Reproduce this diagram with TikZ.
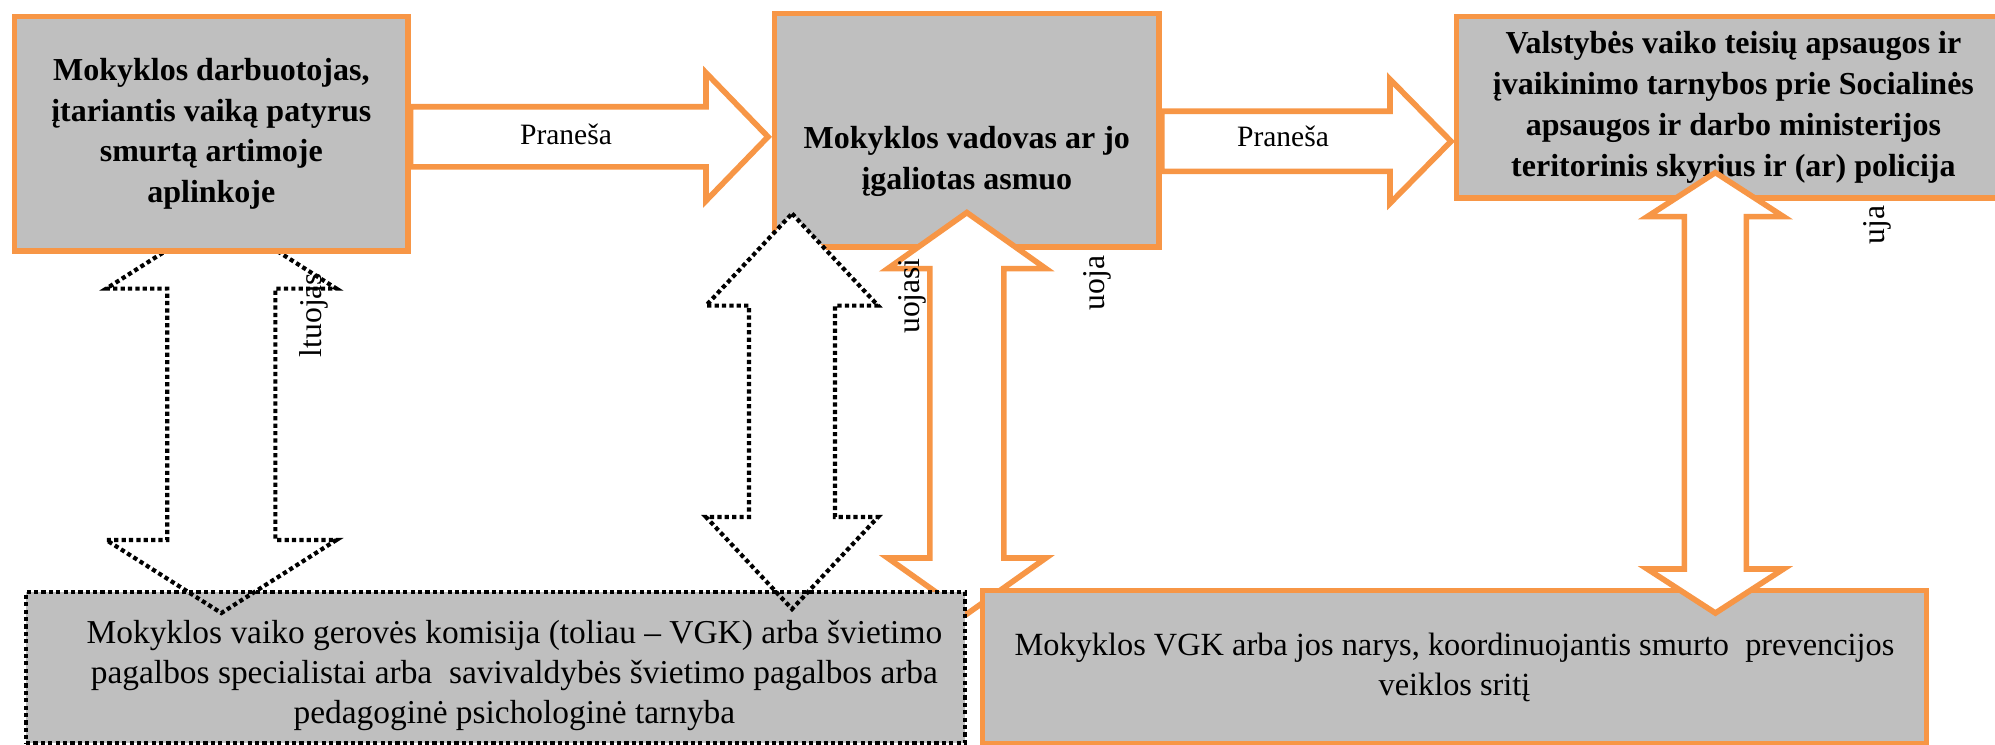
\documentclass[tikz,border=0pt]{standalone}
\usepackage{fontspec}
\setmainfont{Liberation Serif}
\usetikzlibrary{calc,positioning}
\definecolor{boxorange}{HTML}{F79646}
\definecolor{boxgray}{HTML}{BFBFBF}
\pgfdeclarelayer{bottom}
\pgfdeclarelayer{low}
\pgfdeclarelayer{mid}
\pgfdeclarelayer{high}
\pgfsetlayers{bottom,low,mid,high,main}

\begin{document}
\begin{tikzpicture}[x=0.01cm, y=-0.01cm,
  box/.style={draw=boxorange, line width=1.55pt, fill=boxgray, inner sep=0pt, anchor=north west},
  dotbox/.style={box, draw=black, line width=1.2pt, dash pattern=on 1.2pt off 0.9pt},
  boxtitle/.style={font=\fontsize{9.1}{11.6}\selectfont\bfseries, align=center},
  bodytext/.style={font=\fontsize{9.5}{11.4}\selectfont, align=center},
  oarrow/.style={draw=boxorange, line width=1.6pt, fill=white},
  darrow/.style={draw=black, line width=1.2pt, dash pattern=on 1.2pt off 0.9pt},
  arrlabel/.style={font=\fontsize{8.4}{10}\selectfont, inner sep=0pt},
  vlabel/.style={font=\fontsize{9}{11}\selectfont, rotate=90, inner sep=0pt},
  harrow/.style n args={3}{to path={let \p1=(\tikztostart), \p2=(\tikztotarget) in
    (\x1,{\y1+#1}) -- ({\x2-#3},{\y1+#1}) -- ({\x2-#3},{\y1+#2}) -- (\x2,\y1)
    -- ({\x2-#3},{\y1-#2}) -- ({\x2-#3},{\y1-#1}) -- (\x1,{\y1-#1}) -- cycle}},
  vdarrow/.style n args={3}{to path={let \p1=(\tikztostart), \p2=(\tikztotarget) in
    (\x1,\y1) -- ({\x1+#2},{\y1-#3}) -- ({\x1+#1},{\y1-#3}) -- ({\x1+#1},{\y2+#3})
    -- ({\x1+#2},{\y2+#3}) -- (\x1,\y2) -- ({\x1-#2},{\y2+#3}) -- ({\x1-#1},{\y2+#3})
    -- ({\x1-#1},{\y1-#3}) -- ({\x1-#2},{\y1-#3}) -- cycle}}]
\useasboundingbox (0,0) rectangle (1995,744);

\begin{pgfonlayer}{bottom}
\node[box, minimum width=3.84cm, minimum height=2.33cm] (vad) at (772,11) {};
\end{pgfonlayer}
\begin{pgfonlayer}{mid}
\node[dotbox, minimum width=9.38cm, minimum height=1.51cm] (kom) at (24,590) {};
\node[bodytext] (komtxt) at ([xshift=0.19cm, yshift=-0.08cm]kom.center) {Mokyklos vaiko gerovės komisija (toliau – VGK) arba švietimo\\ pagalbos specialistai arba~ savivaldybės švietimo pagalbos arba\\ pedagoginė psichologinė tarnyba};
\node[box, bodytext, font=\fontsize{9.2}{11.4}\selectfont, minimum width=9.43cm, minimum height=1.53cm] (kor) at (980,588) {Mokyklos VGK arba jos narys, koordinuojantis smurto~ prevencijos\\ veiklos sritį};
\end{pgfonlayer}
\node[box, boxtitle, minimum width=3.93cm, minimum height=2.34cm] (darb) at (12,14) {Mokyklos darbuotojas,\\ įtariantis vaiką patyrus\\ smurtą artimoje\\ aplinkoje};
\node[box, boxtitle, minimum width=5.53cm, minimum height=1.81cm] (val) at (1454,14) {Valstybės vaiko teisių apsaugos ir\\ įvaikinimo tarnybos prie Socialinės\\ apsaugos ir darbo ministerijos\\ teritorinis skyrius ir (ar) policija};
\node[boxtitle] (vadtxt) at ([yshift=-0.31cm]vad.center) {Mokyklos vadovas ar jo\\ įgaliotas asmuo};

\begin{pgfonlayer}{low}
\draw[oarrow] ([yshift=0.37cm]vad.south) to[vdarrow={0.37cm}{0.79cm}{0.56cm}] ([yshift=-0.26cm]kor.north);
\fill[white] ([xshift=0.2cm, yshift=0.36cm]vad.south west) to[vdarrow={0.43cm}{0.86cm}{0.92cm}] ([yshift=-0.19cm]kom.north east);
\end{pgfonlayer}
\begin{pgfonlayer}{high}
\draw[darrow] ([xshift=0.1cm, yshift=0.38cm]darb.south) to[vdarrow={0.54cm}{1.15cm}{0.73cm}] ([yshift=-0.23cm]kom.north);
\draw[darrow] ([xshift=0.2cm, yshift=0.36cm]vad.south west) to[vdarrow={0.43cm}{0.86cm}{0.92cm}] ([yshift=-0.19cm]kom.north east);
\end{pgfonlayer}

\draw[oarrow] ([xshift=-0.18cm, yshift=0.28cm]val.south) to[vdarrow={0.31cm}{0.68cm}{0.44cm}] ([yshift=-0.25cm]kor.north);
\draw[oarrow] ([yshift=-0.03cm]darb.east) to[harrow={0.3cm}{0.64cm}{0.62cm}] ([xshift=-0.04cm]vad.west);
\draw[oarrow] ([yshift=-0.11cm]vad.east) to[harrow={0.3cm}{0.62cm}{0.61cm}] ([xshift=-0.03cm]val.west);

\node[arrlabel] (pr1) at (566,134) {Praneša};
\node[arrlabel] (pr2) at (1283,136) {Praneša};
\node[vlabel] (lb1) at (314,315) {ltuojas};
\node[vlabel] (lb2) at (912,296) {uojasi};
\node[vlabel] (lb3) at (1097,283) {uoja};
\node[vlabel] (lb4) at (1877,225) {uja};
\end{tikzpicture}
\end{document}
